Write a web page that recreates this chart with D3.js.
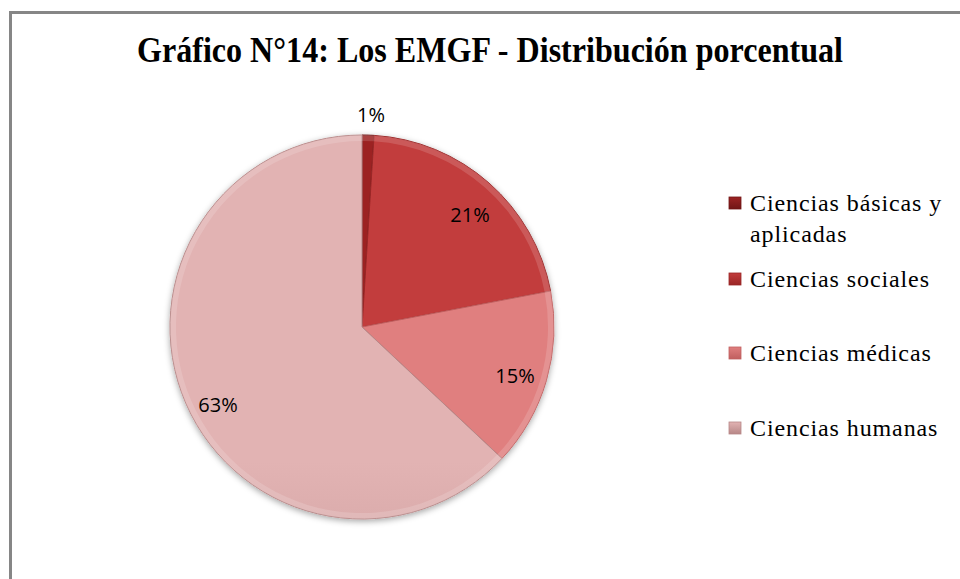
<!DOCTYPE html>
<html>
<head>
<meta charset="utf-8">
<script src="https://cdn.jsdelivr.net/npm/d3@7"></script>
<style>
  body { margin: 0; background: #fff; }
  svg { display: block; }
</style>
</head>
<body>
<div id="chart"></div>
<script>
// Chart data
const categories = ["Ciencias básicas y aplicadas", "Ciencias sociales", "Ciencias médicas", "Ciencias humanas"];
const values = [1, 21, 15, 63];
const labels = ["1%", "21%", "15%", "63%"];
const legendLines = [["Ciencias básicas y", "aplicadas"], ["Ciencias sociales"], ["Ciencias médicas"], ["Ciencias humanas"]];

// colours: top / bottom of each slice gradient
const topColors = ["#9c2424", "#c23c3c", "#e07f7f", "#e2b3b3"];
const botColors = ["#701616", "#9a2626", "#c05f5f", "#b78787"];

const width = 960, height = 579;
const cx = 362, cy = 327, radius = 192;

const svg = d3.select("#chart").append("svg")
    .attr("width", width)
    .attr("height", height);

// outer frame (runs off the right and bottom edges)
svg.append("path")
    .attr("d", "M10.5," + height + " V12.5 H" + width)
    .attr("fill", "none")
    .attr("stroke", "#868686")
    .attr("stroke-width", 3);

// title
svg.append("text")
    .attr("x", 490)
    .attr("y", 62)
    .attr("text-anchor", "middle")
    .attr("font-family", "Liberation Serif, serif")
    .attr("font-weight", "bold")
    .attr("font-size", 35)
    .attr("textLength", 706)
    .attr("lengthAdjust", "spacingAndGlyphs")
    .text("Gráfico N°14: Los EMGF - Distribución porcentual");

const defs = svg.append("defs");
categories.forEach((c, i) => {
    const g = defs.append("linearGradient")
        .attr("id", "grad" + i)
        .attr("gradientUnits", "userSpaceOnUse")
        .attr("x1", 0).attr("y1", cy - radius)
        .attr("x2", 0).attr("y2", cy + radius);
    g.append("stop").attr("offset", "0%").attr("stop-color", topColors[i]);
    g.append("stop").attr("offset", "100%").attr("stop-color", botColors[i]);

    const lg = defs.append("linearGradient")
        .attr("id", "lgrad" + i)
        .attr("x1", 0).attr("y1", 0).attr("x2", 0).attr("y2", 1);
    lg.append("stop").attr("offset", "0%").attr("stop-color", topColors[i]);
    lg.append("stop").attr("offset", "100%").attr("stop-color", botColors[i]);
});

// soft shadow
const filt = defs.append("filter").attr("id", "shadow")
    .attr("x", "-10%").attr("y", "-10%").attr("width", "120%").attr("height", "120%");
filt.append("feDropShadow")
    .attr("dx", 0).attr("dy", 2).attr("stdDeviation", 3)
    .attr("flood-color", "#000").attr("flood-opacity", 0.35);

const pie = d3.pie().sort(null).value(d => d)(values);
const arc = d3.arc().innerRadius(0).outerRadius(radius);
const bevel = d3.arc().innerRadius(radius - 6).outerRadius(radius);

const g = svg.append("g").attr("transform", "translate(" + cx + "," + cy + ")");

g.append("g").attr("filter", "url(#shadow)")
  .selectAll("path")
  .data(pie)
  .enter().append("path")
    .attr("d", arc)
    .attr("fill", (d, i) => "url(#grad" + i + ")")
    .attr("stroke", (d, i) => botColors[i])
    .attr("stroke-width", 1);

// light rim for the bevel look
g.selectAll(".rim")
  .data(pie)
  .enter().append("path")
    .attr("class", "rim")
    .attr("d", bevel)
    .attr("fill", "#fff")
    .attr("opacity", 0.15);

// data labels
const labelPos = [[9, -212], [108, -112], [153, 49], [-144, 78]];
g.selectAll(".lbl")
  .data(pie)
  .enter().append("text")
    .attr("class", "lbl")
    .attr("x", (d, i) => labelPos[i][0])
    .attr("y", (d, i) => labelPos[i][1])
    .attr("text-anchor", "middle")
    .attr("dy", "0.35em")
    .attr("font-family", "Open Sans, Noto Sans, sans-serif")
    .attr("font-size", 20)
    .attr("fill", "#000")
    .text((d, i) => labels[i]);

// legend
const legendY = [203, 279, 353, 428];
const legend = svg.append("g");
categories.forEach((c, i) => {
    const row = legend.append("g").attr("transform", "translate(729," + legendY[i] + ")");
    row.append("rect")
        .attr("x", 0).attr("y", -6)
        .attr("width", 12).attr("height", 12)
        .attr("fill", "url(#lgrad" + i + ")")
        .attr("stroke", botColors[i])
        .attr("stroke-width", 0.8);
    legendLines[i].forEach((t, j) => {
        row.append("text")
            .attr("x", 21)
            .attr("y", 8 + j * 31)
            .attr("font-family", "Liberation Serif, serif")
            .attr("font-size", 24)
            .attr("letter-spacing", 0.9)
            .attr("fill", "#000")
            .text(t);
    });
});
</script>
</body>
</html>
